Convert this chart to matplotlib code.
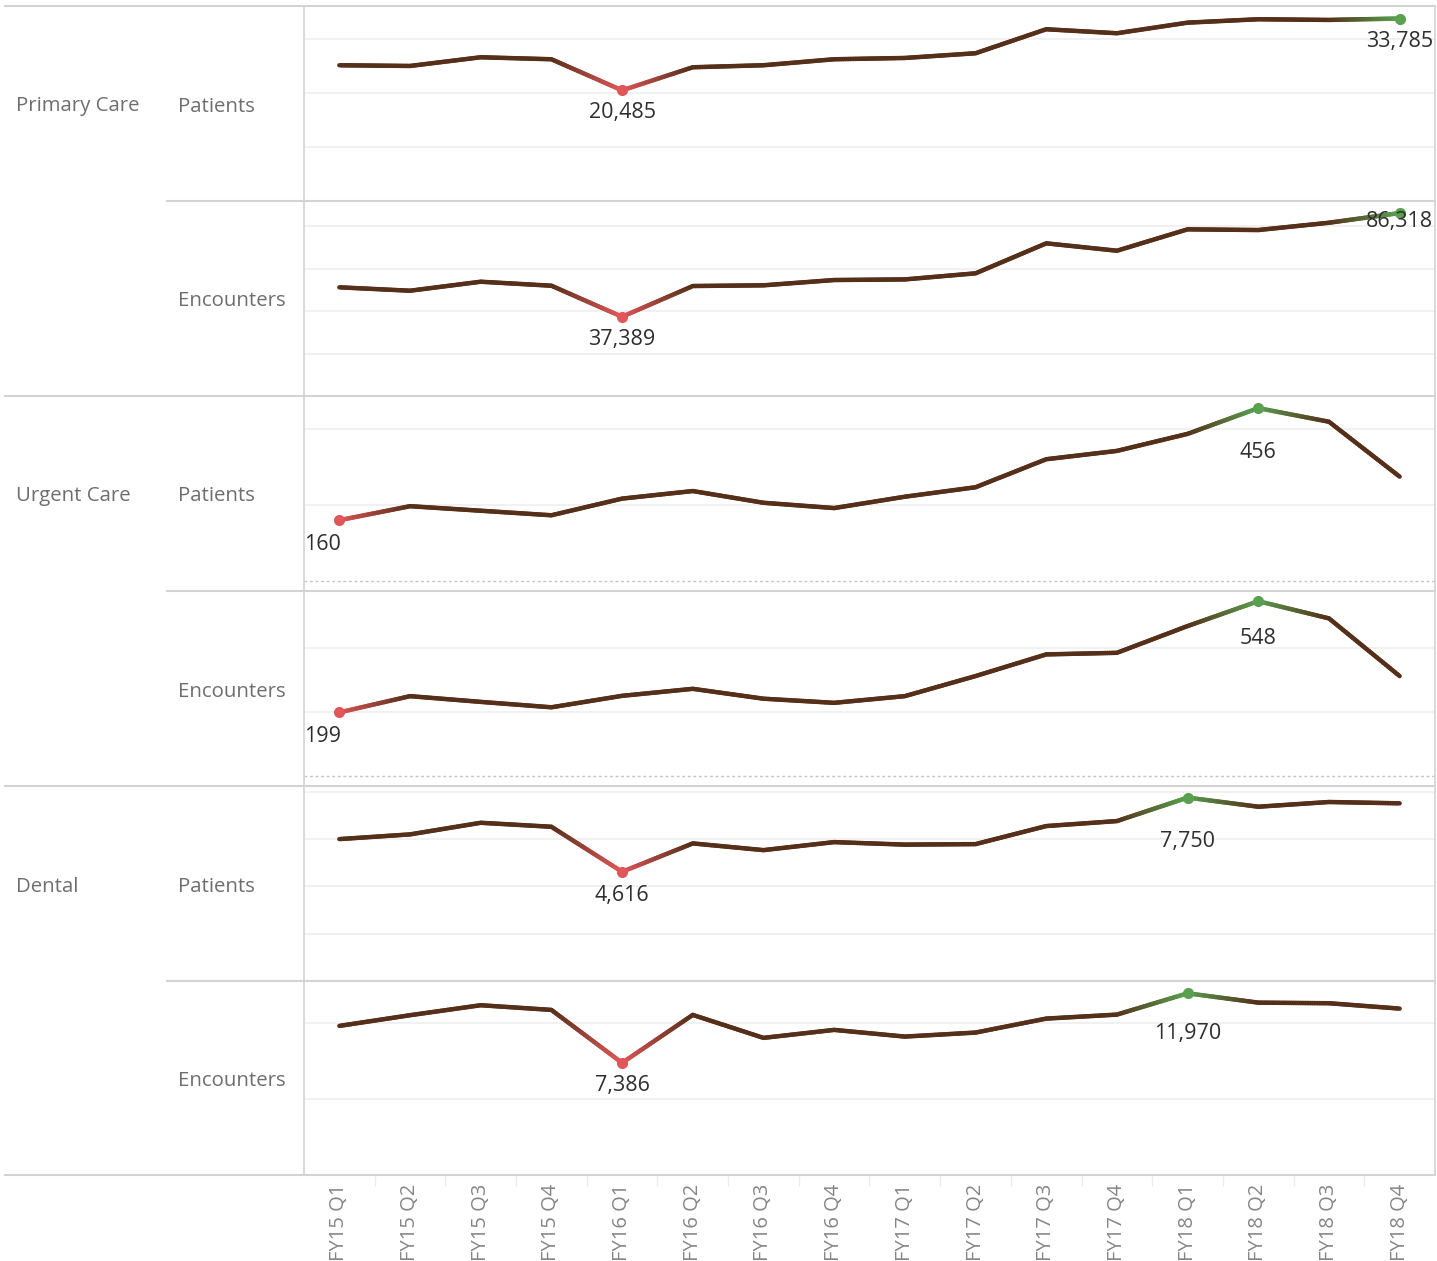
import numpy as np
import matplotlib
matplotlib.use("Agg")
import matplotlib.pyplot as plt
from matplotlib.collections import LineCollection
from matplotlib.colors import to_rgb
from matplotlib.lines import Line2D

plt.rcParams['font.family'] = ['Open Sans', 'DejaVu Sans']

# data
quarters = ["FY15 Q1", "FY15 Q2", "FY15 Q3", "FY15 Q4",
            "FY16 Q1", "FY16 Q2", "FY16 Q3", "FY16 Q4",
            "FY17 Q1", "FY17 Q2", "FY17 Q3", "FY17 Q4",
            "FY18 Q1", "FY18 Q2", "FY18 Q3", "FY18 Q4"]

pc_patients = [25130, 25000, 26611, 26241, 20485, 24759, 25130, 26241,
               26481, 27352, 31796, 31056, 33019, 33648, 33519, 33785]
pc_encounters = [51274, 49670, 53915, 52028, 37389, 51887, 52217, 54717,
                 55000, 57877, 72028, 68538, 78632, 78302, 81745, 86318]
uc_patients = [160, 197, 185, 173, 217, 237, 206, 192,
               222, 247, 321, 343, 388, 456, 420, 275]
uc_encounters = [199, 250, 232, 215, 251, 273, 242, 229,
                 250, 313, 381, 386, 470, 548, 494, 313]
dn_patients = [5996, 6195, 6686, 6517, 4616, 5814, 5530, 5869,
               5763, 5784, 6547, 6758, 7750, 7364, 7564, 7508]
dn_encounters = [9822, 10526, 11184, 10875, 7386, 10546, 9033, 9559,
                 9118, 9382, 10303, 10566, 11970, 11355, 11316, 10961]

groups = ["Primary Care", "Urgent Care", "Dental"]
measures = ["Patients", "Encounters"]

BROWN = '#552f19'
RED = '#e15759'
GREEN = '#59a14f'
SEP = '#d3d3d3'
HEAD = '#6e6e6e'

W, H = 1437, 1261
fig = plt.figure(figsize=(W / 100, H / 100), dpi=100)


def fx(px):
    return px / W


def fy(py):
    return 1 - py / H


# panel settings: values, y range, gridlines, label offsets (min, max) in px
panels = [
    (pc_patients, (0, 36100), [10000, 20000, 30000], (22, 23)),
    (pc_encounters, (0, 92000), [20000, 40000, 60000, 80000], (23, 8)),
    (uc_patients, (-27, 488), [200, 400], (24, 44)),
    (uc_encounters, (-32, 580), [200, 400], (24, 37)),
    (dn_patients, (0, 8240), [2000, 4000, 6000, 8000], (24, 44)),
    (dn_encounters, (0, 12780), [5000, 10000], (23, 40)),
]
tops = [6, 201, 396, 591, 786, 981, 1175]
AX_L, AX_R = 304, 1435


def gradient_line(ax, vals, cols, n=30):
    segs, colors = [], []
    for i in range(len(vals) - 1):
        c0, c1 = np.array(cols[i]), np.array(cols[i + 1])
        xs = np.linspace(i, i + 1, n + 1)
        ys = np.linspace(vals[i], vals[i + 1], n + 1)
        for j in range(n):
            segs.append([(xs[j], ys[j]), (xs[j + 1], ys[j + 1])])
            t = (j + 0.5) / n
            colors.append(c0 * (1 - t) + c1 * t)
    lc = LineCollection(segs, colors=colors, linewidths=3.2,
                        capstyle='round', joinstyle='round', zorder=3)
    ax.add_collection(lc)


def put_label(ax, i, v, off_px, n):
    if i == 0:
        xy, xc, ha = (0.0, v), ('axes fraction', 'data'), 'left'
    elif i == n - 1:
        xy, xc, ha = (0.998, v), ('axes fraction', 'data'), 'right'
    else:
        xy, xc, ha = (i, v), 'data', 'center'
    ax.annotate(f"{v:,}", xy=xy, xycoords=xc, xytext=(0, -off_px * 0.72),
                textcoords='offset points', ha=ha, va='center',
                fontsize=15.5, color='#2e2e2e', zorder=6, annotation_clip=False)


axes = []
for k, (vals, ylim, grid, offs) in enumerate(panels):
    top, bot = tops[k], tops[k + 1]
    ax = fig.add_axes([fx(AX_L), fy(bot), fx(AX_R) - fx(AX_L), (bot - top) / H])
    axes.append(ax)
    n = len(vals)
    x = np.arange(n)

    ax.set_xlim(-0.5, n - 0.5)
    ax.set_ylim(*ylim)
    ax.set_yticks(grid)
    ax.grid(axis='y', color='#efefef', lw=1.2)
    ax.set_axisbelow(True)
    ax.tick_params(axis='y', left=False, labelleft=False)
    for s in ['top', 'bottom']:
        ax.spines[s].set_visible(False)
    for s in ['left', 'right']:
        ax.spines[s].set_color(SEP)
        ax.spines[s].set_linewidth(1.2)
    if ylim[0] < 0:
        ax.axhline(0, color='#c4c4c4', lw=1, ls=(0, (2, 2)), zorder=1)

    imin, imax = int(np.argmin(vals)), int(np.argmax(vals))
    cols = [to_rgb(BROWN)] * n
    cols[imin] = to_rgb(RED)
    cols[imax] = to_rgb(GREEN)
    gradient_line(ax, vals, cols)
    ax.plot([imin], [vals[imin]], 'o', color=RED, ms=7, zorder=5)
    ax.plot([imax], [vals[imax]], 'o', color=GREEN, ms=7, zorder=5)
    put_label(ax, imin, vals[imin], offs[0], n)
    put_label(ax, imax, vals[imax], offs[1], n)

    if k == len(panels) - 1:
        ax.set_xticks(x)
        ax.set_xticklabels(quarters, rotation=90, fontsize=14.5, color='#858585')
        ax.tick_params(axis='x', which='major', length=0, pad=6)
        ax.set_xticks(x[:-1] + 0.5, minor=True)
        ax.tick_params(axis='x', which='minor', length=8, color='#ececec', width=1)
    else:
        ax.set_xticks([])

    # row headers
    cy = fy((top + bot) / 2 + 3)
    fig.text(fx(178), cy, measures[k % 2], ha='left', va='center',
             fontsize=14.7, color=HEAD)
    if k % 2 == 0:
        fig.text(fx(16), cy, groups[k // 2], ha='left', va='center',
                 fontsize=14.7, color=HEAD)

# separators between groups and between measures
for y in [6, 396, 786, 1175]:
    fig.add_artist(Line2D([fx(5), fx(AX_R)], [fy(y), fy(y)],
                          transform=fig.transFigure, color=SEP, lw=1.5))
for y in [201, 591, 981]:
    fig.add_artist(Line2D([fx(167), fx(AX_R)], [fy(y), fy(y)],
                          transform=fig.transFigure, color=SEP, lw=1.5))

fig.savefig("out.png", dpi=100, facecolor='white')
